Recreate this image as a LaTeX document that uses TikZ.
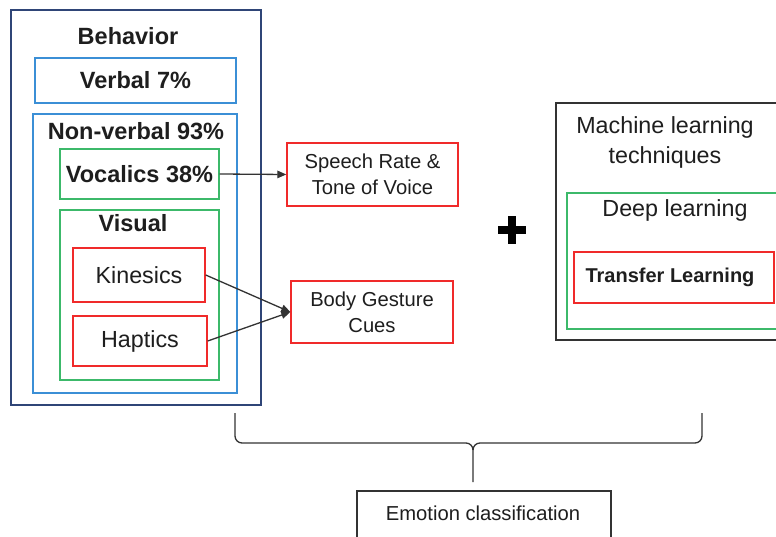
\documentclass[tikz,border=0pt]{standalone}
\usepackage{fontspec}
\setmainfont{Liberation Sans}
\usetikzlibrary{arrows.meta}
\definecolor{navy}{HTML}{2F4577}
\definecolor{lblue}{HTML}{3B8FD6}
\definecolor{lgreen}{HTML}{3CB96A}
\definecolor{lred}{HTML}{F02A2A}
\definecolor{txt}{HTML}{1E1E1E}
\definecolor{edge}{HTML}{333333}
\tikzset{
  box/.style={draw, line width=1.4pt, inner sep=0pt, text=txt, align=center},
  navybox/.style={box, draw=navy, line width=1.8pt},
  bluebox/.style={box, draw=lblue},
  greenbox/.style={box, draw=lgreen},
  redbox/.style={box, draw=lred},
  blackbox/.style={box, draw=edge},
  bigb/.style={font=\fontsize{23.5}{28}\selectfont\bfseries, text=txt, inner sep=0pt},
  bigr/.style={font=\fontsize{23.3}{30}\selectfont, text=txt, align=center},
  midr/.style={font=\fontsize{20.2}{26}\selectfont, text=txt, align=center},
  conn/.style={draw=edge, line width=1.3pt, -{Triangle[length=9pt,width=7.5pt]}},
  brace/.style={draw=edge, line width=1.3pt}
}
\begin{document}
\begin{tikzpicture}[x=1pt,y=-1pt]
\clip (0,0) rectangle (776,537);
\useasboundingbox (0,0) rectangle (776,537);
\fill[white] (0,0) rectangle (776,537);

% Behavior column
\node[navybox, minimum width=250pt, minimum height=395pt] (beh) at (136,207.5) {};
\node[bigb] (behT) at (128,36) {Behavior};
\node[bluebox, bigb, minimum width=201pt, minimum height=45pt] (verbal) at (135.5,80.5) {Verbal 7\%};
\node[bluebox, minimum width=204pt, minimum height=279pt] (nonv) at (135,253.5) {};
\node[bigb] (nonvT) at (136,131) {Non-verbal 93\%};
\node[greenbox, bigb, minimum width=159pt, minimum height=50pt] (voc) at (139.5,174) {Vocalics 38\%};
\node[greenbox, minimum width=159pt, minimum height=170pt] (vis) at (139.5,295) {};
\node[bigb] (visT) at (133,223) {Visual};
\node[redbox, bigr, minimum width=132pt, minimum height=54pt] (kin) at (139,275) {Kinesics};
\node[redbox, bigr, minimum width=134pt, minimum height=50pt] (hap) at (140,341) {Haptics};

% middle boxes
\node[redbox, midr, minimum width=171pt, minimum height=63pt] (speech) at (372.5,174.5) {Speech Rate \&\\Tone of Voice};
\node[redbox, midr, minimum width=162pt, minimum height=62pt] (body) at (372,312) {Body Gesture\\Cues};

\draw[conn] (voc.east) -- (speech.west);
\draw[conn] (kin.east) -- (body.west);
\draw[conn] (hap.east) -- (body.west);

% plus sign
\fill[black] (498,226) rectangle (526,234);
\fill[black] (508,216) rectangle (516,244);

% machine learning
\node[blackbox, minimum width=224pt, minimum height=237pt] (ml) at (668,221.5) {};
\node[bigr] (mlT) at (665,142) {Machine learning\\techniques};
\node[greenbox, minimum width=213pt, minimum height=136pt] (dl) at (673.5,261) {};
\node[bigr] (dlT) at (675,210) {Deep learning};
\node[redbox, font=\fontsize{20}{24}\selectfont\bfseries, minimum width=200pt, minimum height=51pt] (tl) at (674,277.5) {\hspace*{-8pt}Transfer Learning};

% emotion classification
\node[blackbox, minimum width=254pt, minimum height=49pt] (emo) at (484,515.5) {};
\node[midr] (emoT) at (483,513) {Emotion classification};

% brace
\coordinate (bl) at (235,413);
\coordinate (br) at (702,413);
\coordinate (bt) at (473,482);
\draw[brace] (bl) -- (235,436) to[out=-90,in=180] (242,443) -- (466,443)
  to[out=0,in=90] (473,450) -- (bt);
\draw[brace] (br) -- (702,436) to[out=-90,in=0] (695,443) -- (480,443)
  to[out=180,in=90] (473,450);
\end{tikzpicture}
\end{document}
